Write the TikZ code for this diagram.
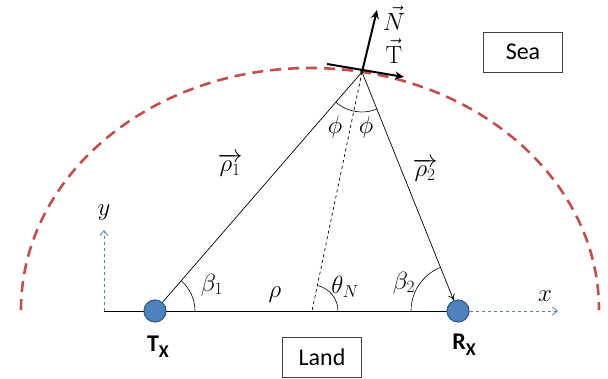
\documentclass[tikz,border=0pt]{standalone}
\usepackage[no-math]{fontspec}
\setmainfont{Carlito}
\usetikzlibrary{arrows.meta}
\definecolor{seared}{HTML}{C0504D}
\definecolor{obl}{HTML}{4F81BD}
\definecolor{obd}{HTML}{385D8A}
\begin{document}
\begin{tikzpicture}[x=1pt,y=-1pt,
  station/.style={circle, fill=obl, draw=obd, line width=1.2pt, minimum size=22pt, inner sep=0pt},
  lbl/.style={font=\fontsize{25}{28}\selectfont, inner sep=0pt},
  boxlbl/.style={draw=black!75, line width=0.9pt, font=\fontsize{24}{28}\selectfont, minimum width=79pt, minimum height=40pt, inner sep=0pt},
  stlbl/.style={font=\fontsize{24}{28}\selectfont\bfseries, inner sep=0pt},
  axis/.style={obl, dashed, line width=0.8pt, -{Straight Barb[length=5pt,width=8pt]}},
  anglearc/.style={line width=0.6pt},
  vecarrow/.style={line width=2pt, -{Stealth[length=9pt,width=8pt]}}
]
\useasboundingbox (0,0) rectangle (608,379);
% sea boundary
\draw[seared, line width=2.6pt, dash pattern=on 11pt off 7pt] (21,310) arc[start angle=180, end angle=360, x radius=289, y radius=242];
% key points
\coordinate (o) at (104,311);
\coordinate (apex) at (362,72);
\coordinate (nf) at (312,311);
\coordinate (xend) at (558,311);
\coordinate (yend) at (104,230);
\coordinate (t0) at (327,64);
\coordinate (t1) at (404,77);
\coordinate (nend) at (377,10);
% baseline
\draw[line width=0.8pt] (o) -- (458,311);
% axes
\draw[axis] (o) -- (yend);
\draw[axis] (458,311) -- (xend);
% lines
\draw[line width=0.7pt] (155,311) -- (apex);
\draw[line width=0.7pt, dashed] (apex) -- (nf);
% angle arcs
\draw[anglearc] (155,311) ++(40,0) arc[start angle=0, end angle=-49.1, radius=40];
\draw[anglearc] (458,311) ++(-47,0) arc[start angle=180, end angle=248.1, radius=47];
\draw[anglearc] (nf) ++(26,0) arc[start angle=0, end angle=-78.2, radius=26];
\draw[anglearc] (apex) ++(68.1:40) arc[start angle=68.1, end angle=130.9, radius=40];
% stations
\node[station] (tx) at (155,311) {};
\node[station] (rx) at (458,311) {};
\draw[line width=0.7pt, -{To[length=6pt,width=7pt]}] (apex) -- (rx);
% surface vectors
\draw[vecarrow] (t0) -- (t1);
\draw[vecarrow] (apex) -- (nend);
% labels
\node[lbl] (nl) at (394,18) {$\vec{N}$};
\node[lbl] (tl) at (394,51) {$\vec{\mathrm{T}}$};
\node[lbl] (r1) at (230,165) {$\overrightarrow{\rho_1}$};
\node[lbl] (r2) at (425,170) {$\overrightarrow{\rho_2}$};
\node[lbl] (p1) at (335,127) {$\phi$};
\node[lbl] (p2) at (366,127) {$\phi$};
\node[lbl] (b1) at (212,285) {$\beta_1$};
\node[lbl] (rh) at (275,295) {$\rho$};
\node[lbl] (th) at (345,287) {$\theta_N$};
\node[lbl] (b2) at (404,283) {$\beta_2$};
\node[lbl] (xl) at (545,296) {$x$};
\node[lbl] (yl) at (104,213) {$y$};
\node[stlbl] (txl) at (158,347) {T\raisebox{-6pt}{\fontsize{18}{18}\selectfont X}};
\node[stlbl] (rxl) at (464,345) {R\raisebox{-6pt}{\fontsize{18}{18}\selectfont X}};
\node[boxlbl] (sea) at (523,52) {Sea};
\node[boxlbl] (land) at (322,357) {Land};
\end{tikzpicture}
\end{document}
